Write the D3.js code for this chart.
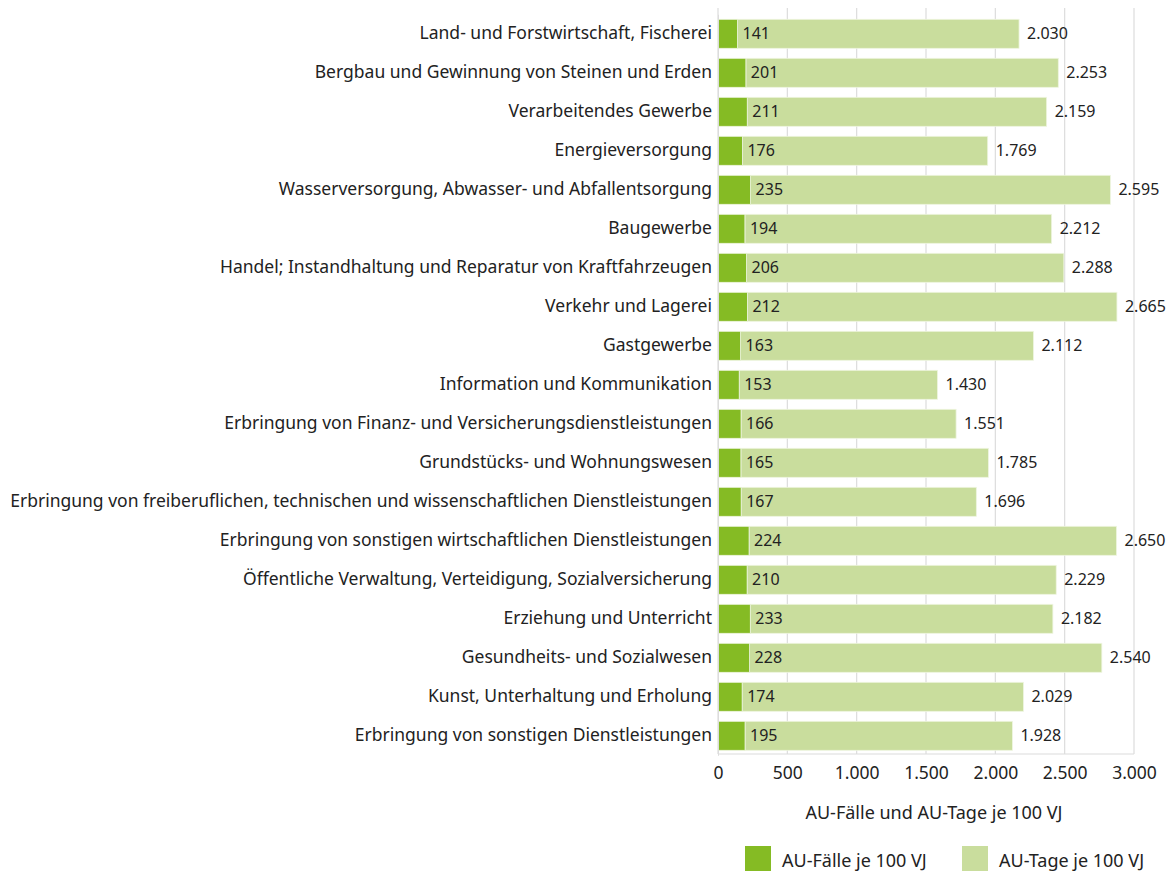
<!DOCTYPE html>
<html>
<head>
<meta charset="utf-8">
<script src="https://cdn.jsdelivr.net/npm/d3@7"></script>
<style>
  html, body { margin: 0; padding: 0; background: #fff; }
  svg { display: block; font-family: "Noto Sans", "Open Sans", sans-serif; }
</style>
</head>
<body>
<svg id="chart" width="1169" height="871"></svg>
<script>
const categories = [
  "Land- und Forstwirtschaft, Fischerei",
  "Bergbau und Gewinnung von Steinen und Erden",
  "Verarbeitendes Gewerbe",
  "Energieversorgung",
  "Wasserversorgung, Abwasser- und Abfallentsorgung",
  "Baugewerbe",
  "Handel; Instandhaltung und Reparatur von Kraftfahrzeugen",
  "Verkehr und Lagerei",
  "Gastgewerbe",
  "Information und Kommunikation",
  "Erbringung von Finanz- und Versicherungsdienstleistungen",
  "Grundstücks- und Wohnungswesen",
  "Erbringung von freiberuflichen, technischen und wissenschaftlichen Dienstleistungen",
  "Erbringung von sonstigen wirtschaftlichen Dienstleistungen",
  "Öffentliche Verwaltung, Verteidigung, Sozialversicherung",
  "Erziehung und Unterricht",
  "Gesundheits- und Sozialwesen",
  "Kunst, Unterhaltung und Erholung",
  "Erbringung von sonstigen Dienstleistungen"
];
const auFaelle = [141, 201, 211, 176, 235, 194, 206, 212, 163, 153, 166, 165, 167, 224, 210, 233, 228, 174, 195];
const auTage = [2030, 2253, 2159, 1769, 2595, 2212, 2288, 2665, 2112, 1430, 1551, 1785, 1696, 2650, 2229, 2182, 2540, 2029, 1928];
const xTicks = [0, 500, 1000, 1500, 2000, 2500, 3000];
const seriesNames = ["AU-Fälle je 100 VJ", "AU-Tage je 100 VJ"];
const axisTitle = "AU-Fälle und AU-Tage je 100 VJ";

const colors = ["#85bb24", "#c9dd9d"];
const textColor = "#222";

const locale = d3.formatLocale({decimal: ",", thousands: ".", grouping: [3], currency: ["", " €"]});
const fmt = locale.format(",d");

const svg = d3.select("#chart");
const x0 = 718, x1 = 1134;
const x = d3.scaleLinear().domain([0, 3000]).range([x0, x1]);
const y = d3.scaleBand().domain(categories).range([14.3, 14.3 + 19 * 39]).paddingInner(10 / 39).paddingOuter(5 / 39);
const gridTop = 8, gridBottom = 754;

// gridlines
svg.append("g").selectAll("line").data(xTicks).join("line")
  .attr("x1", d => x(d)).attr("x2", d => x(d))
  .attr("y1", gridTop).attr("y2", gridBottom)
  .attr("stroke", "#dcdcdc").attr("stroke-width", 1.2);
svg.append("line").attr("x1", x0).attr("x2", x1).attr("y1", gridBottom).attr("y2", gridBottom)
  .attr("stroke", "#dcdcdc").attr("stroke-width", 1.2);

const rows = categories.map((c, i) => ({c, f: auFaelle[i], t: auTage[i]}));

const g = svg.append("g");
// light (AU-Tage) stacked after AU-Fälle
g.selectAll("rect.t").data(rows).join("rect").attr("class", "t")
  .attr("x", d => x(d.f)).attr("width", d => x(d.f + d.t) - x(d.f))
  .attr("y", d => y(d.c)).attr("height", y.bandwidth())
  .attr("fill", colors[1]).attr("stroke", "#eef5e0").attr("stroke-width", 0.8);
g.selectAll("rect.f").data(rows).join("rect").attr("class", "f")
  .attr("x", x(0)).attr("width", d => x(d.f) - x(0))
  .attr("y", d => y(d.c)).attr("height", y.bandwidth())
  .attr("fill", colors[0]).attr("stroke", "#eef5e0").attr("stroke-width", 0.8);

// value labels
g.selectAll("text.fl").data(rows).join("text").attr("class", "fl")
  .attr("x", d => x(d.f) + 5).attr("y", d => y(d.c) + y.bandwidth() / 2)
  .attr("dy", "0.35em").attr("font-size", 16).attr("fill", textColor)
  .text(d => fmt(d.f));
g.selectAll("text.tl").data(rows).join("text").attr("class", "tl")
  .attr("x", d => x(d.f + d.t) + 8).attr("y", d => y(d.c) + y.bandwidth() / 2)
  .attr("dy", "0.35em").attr("font-size", 16).attr("fill", textColor)
  .text(d => fmt(d.t));

// category axis
const yAxis = d3.axisLeft(y).tickSize(0).tickPadding(6);
const ya = svg.append("g").attr("transform", `translate(${x0},0)`).call(yAxis);
ya.select(".domain").attr("stroke", "#dcdcdc");
ya.selectAll("text").attr("font-size", 17.5).attr("fill", textColor).attr("font-family", "Noto Sans");

// x axis
const xAxis = d3.axisBottom(x).tickValues(xTicks).tickFormat(fmt).tickSize(0).tickPadding(13);
const xa = svg.append("g").attr("transform", `translate(0,${gridBottom})`).call(xAxis);
xa.select(".domain").remove();
xa.selectAll("text").attr("font-size", 17.5).attr("fill", textColor).attr("font-family", "Noto Sans");

svg.append("text").attr("x", (x0 + x1) / 2 + 8).attr("y", 819).attr("text-anchor", "middle")
  .attr("font-size", 18).attr("fill", textColor).text(axisTitle);

// legend
const legendX = [745, 962];
const lg = svg.append("g");
seriesNames.forEach((s, i) => {
  lg.append("rect").attr("x", legendX[i]).attr("y", 846).attr("width", 26).attr("height", 26).attr("fill", colors[i]);
  lg.append("text").attr("x", legendX[i] + 37).attr("y", 867)
    .attr("font-size", 18).attr("fill", textColor).text(s);
});
</script>
</body>
</html>
